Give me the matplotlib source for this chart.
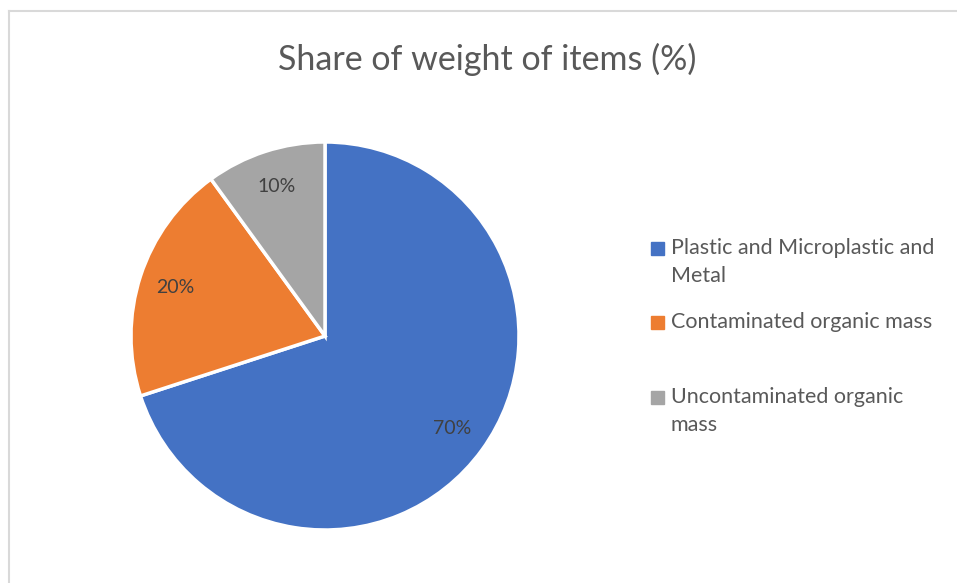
import matplotlib.pyplot as plt
from matplotlib.patches import Rectangle

labels = ["Plastic and Microplastic and\nMetal", "Contaminated organic mass",
          "Uncontaminated organic\nmass"]
shares = [70, 20, 10]
colors = ["#4472C4", "#ED7D31", "#A5A5A5"]

plt.rcParams['font.family'] = ['Lato', 'DejaVu Sans']
W, H = 957, 583
fig = plt.figure(figsize=(W / 100, H / 100), dpi=100)

# chart border (light grey, cut off at right and bottom)
fig.add_artist(plt.Line2D([9 / W, 9 / W], [0, 1 - 11 / H], color="#d9d9d9", lw=1.5,
                          transform=fig.transFigure))
fig.add_artist(plt.Line2D([9 / W, 1], [1 - 11 / H, 1 - 11 / H], color="#d9d9d9", lw=1.5,
                          transform=fig.transFigure))

fig.text(487 / W, 1 - 59 / H, "Share of weight of items (%)", ha="center", va="center",
         fontsize=24.5, color="#595959")

# pie centred at (325, 336) px, radius ~194 px
cx, cy, r = 325, H - 336, 194
ax = fig.add_axes([(cx - r) / W, (cy - r) / H, 2 * r / W, 2 * r / H])
ax.pie(shares, colors=colors, startangle=90, counterclock=False,
       autopct="%d%%", pctdistance=0.81, radius=1,
       wedgeprops=dict(edgecolor="white", linewidth=2.5),
       textprops=dict(color="#404040", fontsize=14))
ax.set_xlim(-1, 1)
ax.set_ylim(-1, 1)
ax.set_aspect("equal")
ax.axis("off")

# legend
leg_y = [248, 322, 397]
for lab, col, y in zip(labels, colors, leg_y):
    fig.add_artist(Rectangle((651 / W, 1 - (y + 7) / H), 13 / W, 13 / H, color=col,
                             transform=fig.transFigure))
    fig.text(671 / W, 1 - (y - 10) / H, lab, ha="left", va="top", fontsize=15.5,
             color="#595959", linespacing=1.5)

fig.savefig("out.png", dpi=100)
